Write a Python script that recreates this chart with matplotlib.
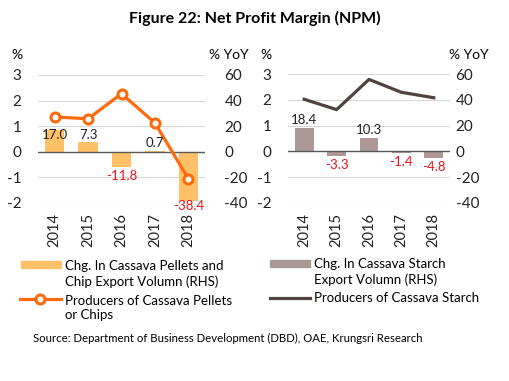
import numpy as np
import matplotlib.pyplot as plt
from matplotlib.patches import Rectangle
from matplotlib.lines import Line2D

plt.rcParams['font.family'] = ['Lato', 'DejaVu Sans']

# ------------------------------------------
# Data
# ------------------------------------------
years = ["2014", "2015", "2016", "2017", "2018"]

pellet_export_chg = [17.0, 7.3, -11.8, 0.7, -38.4]     # % YoY (RHS)
pellet_npm = [1.36, 1.29, 2.27, 1.13, -1.05]           # %

starch_export_chg = [18.4, -3.3, 10.3, -1.4, -4.8]     # % YoY (RHS)
starch_npm = [2.02, 1.62, 2.79, 2.29, 2.08]            # %

left_ticks = [-2, -1, 0, 1, 2, 3]
right_ticks = [-40, -20, 0, 20, 40, 60]

# colours
bar_orange = "#FFC067"
line_orange = "#FF6A0E"
bar_brown = "#AB9995"
line_brown = "#4E4341"
grid_col = "#D9D9D9"
zero_col = "#595959"

W, H = 509, 381
fig = plt.figure(figsize=(W / 100, H / 100), dpi=100)


def px_rect(x0, x1, ytop, ybot):
    return [x0 / W, 1 - ybot / H, (x1 - x0) / W, (ybot - ytop) / H]


def panel(rect, bars, line, bar_col, line_col, marker, rpad):
    ax = fig.add_axes(rect)
    ax2 = ax.twinx()
    x = np.arange(len(years))

    ax.set_ylim(-2, 3)
    ax2.set_ylim(-40, 60)
    ax.set_xlim(-0.5, len(years) - 0.5)

    for v in left_ticks:
        if v != 0:
            ax2.axhline(v * 20, color=grid_col, lw=0.8, zorder=0)

    ax2.bar(x, bars, width=0.58, color=bar_col, zorder=1)
    ax2.axhline(0, color=zero_col, lw=1.0, zorder=2)

    # line drawn over the bars
    ax.set_zorder(ax2.get_zorder() + 1)
    ax.patch.set_visible(False)
    if marker:
        ax.plot(x, line, color=line_col, lw=2.3, marker="o", ms=6.5,
                mfc="white", mec=line_col, mew=2.2, zorder=3)
    else:
        ax.plot(x, line, color=line_col, lw=2.3, zorder=3)

    # bar value labels, on top of everything
    for xi, v, l in zip(x, bars, line):
        l_rhs = l * 20
        if v >= 0:
            if v < l_rhs < v + 14:
                # marker in the way: tuck the label under the bar top
                ax.text(xi, v + 0.5, f"{v:.1f}", ha="center", va="top",
                        fontsize=9.5, color="#222222", zorder=5,
                        transform=ax2.transData)
            else:
                ax.text(xi, v + 1.5, f"{v:.1f}", ha="center", va="bottom",
                        fontsize=9.5, color="#222222", zorder=5,
                        transform=ax2.transData)
        else:
            y = max(v - 2.5, -40 + 2)
            ax.text(xi, y, f"{v:.1f}", ha="center", va="top",
                    fontsize=9.5, color="#E8141B", zorder=5,
                    transform=ax2.transData)

    ax.set_xticks(x)
    ax.set_xticklabels(years, rotation=90, fontsize=10.5)
    ax.set_yticks(left_ticks)
    ax.set_yticklabels([str(t) for t in left_ticks], fontsize=11)
    ax2.set_yticks(right_ticks)
    ax2.set_yticklabels([str(t) for t in right_ticks], fontsize=11)
    ax.tick_params(axis="x", length=0, pad=7, colors="#222222")
    ax.tick_params(axis="y", length=0, pad=12, colors="#222222")
    ax2.tick_params(axis="y", length=0, pad=rpad, colors="#222222")

    for a in (ax, ax2):
        for s in a.spines.values():
            s.set_visible(False)
    return ax, ax2


panel(px_rect(38, 205, 75, 203), pellet_export_chg, pellet_npm,
      bar_orange, line_orange, True, 14)
panel(px_rect(288, 450, 74, 203), starch_export_chg, starch_npm,
      bar_brown, line_brown, False, 4)

# axis unit labels
fig.text(17 / W, 1 - 55 / H, "%", fontsize=10, va="center", ha="center")
fig.text(229 / W, 1 - 55 / H, "% YoY", fontsize=10, va="center", ha="center")
fig.text(266 / W, 1 - 55 / H, "%", fontsize=10, va="center", ha="center")
fig.text(469 / W, 1 - 55 / H, "% YoY", fontsize=10, va="center", ha="center")

# title
fig.text(0.5, 1 - 18 / H, "Figure 22: Net Profit Margin (NPM)",
         fontsize=11.5, fontweight="bold", ha="center", va="center")

# ------------------------------------------
# Legend (drawn by hand)
# ------------------------------------------
fig.add_artist(Rectangle((21 / W, 1 - 268 / H), 40 / W, 7 / H,
                         color=bar_orange, transform=fig.transFigure))
fig.text(65 / W, 1 - 274 / H, "Chg. In Cassava Pellets and\nChip Export Volumn (RHS)",
         fontsize=9.5, va="center", ha="left", linespacing=1.25)
fig.add_artist(Line2D([20 / W, 61 / W], [1 - 299 / H, 1 - 299 / H],
                      color=line_orange, lw=2.3, transform=fig.transFigure))
fig.add_artist(Line2D([40 / W], [1 - 299 / H], marker="o", ms=6.5, mfc="white",
                      mec=line_orange, mew=2.2, transform=fig.transFigure))
fig.text(65 / W, 1 - 308 / H, "Producers of Cassava Pellets\nor Chips",
         fontsize=9.5, va="center", ha="left", linespacing=1.25)

fig.add_artist(Rectangle((270 / W, 1 - 267 / H), 40 / W, 7 / H,
                         color=bar_brown, transform=fig.transFigure))
fig.text(314 / W, 1 - 272 / H, "Chg. In Cassava Starch\nExport Volumn (RHS)",
         fontsize=9.5, va="center", ha="left", linespacing=1.25)
fig.add_artist(Line2D([270 / W, 310 / W], [1 - 298 / H, 1 - 298 / H],
                      color=line_brown, lw=2.3, transform=fig.transFigure))
fig.text(314 / W, 1 - 298 / H, "Producers of Cassava Starch",
         fontsize=9.5, va="center", ha="left")

fig.text(33 / W, 1 - 338 / H,
         "Source: Department of Business Development (DBD), OAE, Krungsri Research",
         fontsize=8.2, va="center", ha="left")

fig.savefig("out.png", dpi=100)
